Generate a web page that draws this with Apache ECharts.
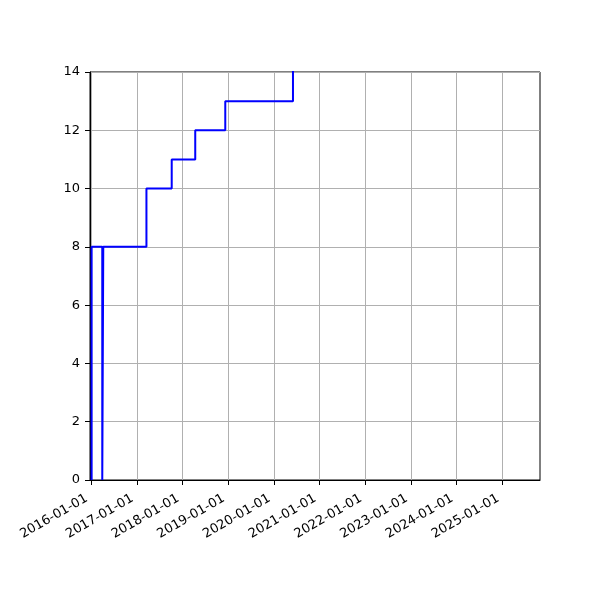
<!DOCTYPE html>
<html>
<head>
<meta charset="utf-8">
<script src="https://cdn.jsdelivr.net/npm/echarts@6/dist/echarts.min.js"></script>
<style>html,body{margin:0;padding:0;background:#fff}#c{width:600px;height:600px}</style>
</head>
<body>
<div id="c"></div>
<script>
// step data (steps-post): each date with the value that starts there
var dates = ['2016-01-06','2016-01-06','2016-03-31','2016-04-08','2017-03-19','2017-10-07','2018-04-13','2018-12-09','2020-06-02'];
var values = [0, 8, 0, 8, 10, 11, 12, 13, 15];
var xTickLabels = ['2016-01-01','2017-01-01','2018-01-01','2019-01-01','2020-01-01','2021-01-01','2022-01-01','2023-01-01','2024-01-01','2025-01-01'];
var xMin = '2015-12-24';
var xMax = '2025-10-28';
var yMin = 0, yMax = 14, yStep = 2;

function ts(s){ return new Date(s + 'T00:00:00Z').getTime(); }
function fmt(v){
  var d = new Date(v);
  var p = function(n){ return (n < 10 ? '0' : '') + n; };
  return d.getUTCFullYear() + '-' + p(d.getUTCMonth() + 1) + '-' + p(d.getUTCDate());
}
var tickVals = xTickLabels.map(ts);
var seriesData = dates.map(function(d, i){ return [ts(d), values[i]]; });

var font = 'DejaVu Sans';
var chart = echarts.init(document.getElementById('c'), null, {renderer: 'canvas'});
chart.setOption({
  animation: false,
  backgroundColor: '#fff',
  grid: {left: 90, right: 60, top: 72, bottom: 120, show: true, borderColor: '#000', borderWidth: 1, backgroundColor: 'transparent'},
  xAxis: {
    type: 'value',
    min: ts(xMin), max: ts(xMax),
    axisLine: {show: true, onZero: false, lineStyle: {color: '#000', width: 1}},
    axisTick: {show: true, length: 5, lineStyle: {color: '#000'}, customValues: tickVals},
    axisLabel: {customValues: tickVals, rotate: 30, margin: 15, padding: [0, 5, 0, 0], color: '#000', fontFamily: font, fontSize: 13, formatter: function(v){ return fmt(v); }, hideOverlap: false, showMinLabel: true, showMaxLabel: true},
    splitLine: {show: true, lineStyle: {color: '#b0b0b0', width: 1}}
  },
  yAxis: {
    type: 'value',
    min: yMin, max: yMax, interval: yStep,
    axisLine: {show: true, lineStyle: {color: '#000', width: 1}},
    axisTick: {show: true, length: 5, lineStyle: {color: '#000'}},
    axisLabel: {margin: 10, color: '#000', fontFamily: font, fontSize: 13},
    splitLine: {show: true, lineStyle: {color: '#b0b0b0', width: 1}}
  },
  series: [{
    type: 'line',
    step: 'end',
    data: seriesData,
    showSymbol: false,
    clip: true,
    lineStyle: {color: '#0000ff', width: 2}
  }]
});
</script>
</body>
</html>
